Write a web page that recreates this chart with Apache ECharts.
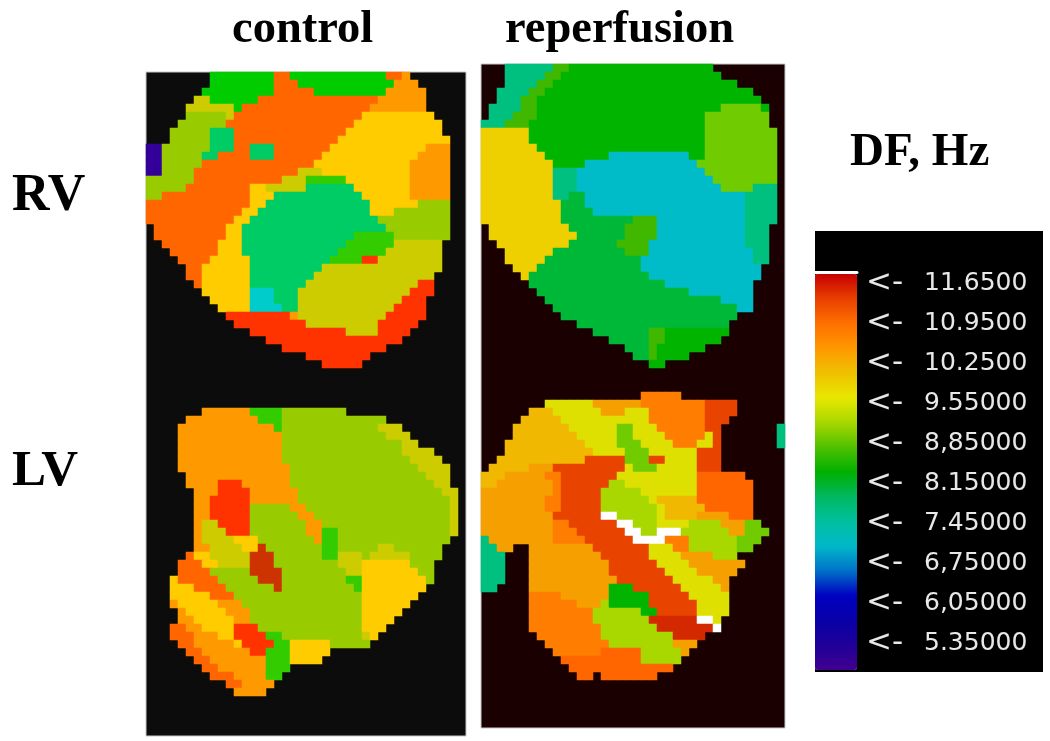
<!DOCTYPE html>
<html>
<head>
<meta charset="utf-8">
<title>DF maps</title>
<script src="https://cdn.jsdelivr.net/npm/echarts@6/dist/echarts.min.js"></script>
<style>
  html, body { margin: 0; padding: 0; background: #fff; }
  #chartsDiv { width: 1050px; height: 741px; }
  /* the source picture is a soft, scaled-up scan */
  #chartsDiv canvas { filter: blur(0.6px); }
</style>
</head>
<body>
<div id="chartsDiv"></div>
<script>
// each row is run-length coded: count + level letter, '.' is no data
var controlRV = [
  '8.8g2O12g2O1L', '8.8g3O12g3L', '7.9g5O9g5L', '6.2K6g15O6L', '5.6K1g16O7L',
  '5.5A1K16O9Y', '4.6A16O11Y', '3.5A3T14O12Y', '3.5A3T13O14Y', '2V6A3T2O3T7O12Y3L',
  '2V5A2T4O3T6O12Y4L', '2V5A14O12Y5L', '2V4A13O3K11Y5L', '6A11O3K5G8Y5L', '5A8O2Y5K6T7Y5L',
  '2A11O3Y11T6Y5L', '13O2Y13T6Y4A', '12O2Y14T3Y7A', '11O2Y16T9A', '1.9O2Y18T8A',
  '1.9O2Y14T5G7A', '2.7O3Y13T6G6K', '3.6O3Y12T6G7K', '4.4O5Y10T4G2R8K', '5.2O6Y9T15K',
  '5.2O6Y8T15K', '6.1O6Y7T14K2R', '7.6Y3C3T14K3R', '8.5Y3C3T13K3R', '9.4Y4C2T12K4R',
  '10.8R1L11K5R', '11.9R9K5R', '13.12R4K4R', '15.17R', '17.13R', '20.8R', '22.5R'
]
var controlLV = [
  '7.6L4G8A', '5.9L3G13A', '4.12L1G12A3K', '4.13L13A3K', '4.13L15A2K',
  '4.13L15A4K', '4.13L16A4K', '4.14L16A4K', '5.13L17A3K', '5.4L3R6L18A2K',
  '6.3L4R6L18A2K', '6.2L5R6L19A1K', '6.2L5R5A2L18A1K', '6.2L5R6A2L17A1K', '6.1L2K4R7A2L16A1K',
  '6.1L3K3R7A2L2G14A1K', '6.1L4K3Y7A1L2G14A', '6.2L4K2Y1D7A2G5A2K6A', '5.1O2Y5K3D6A2G3K1A5K4A', '4.3O2Y4K3D8A3K6Y3A',
  '4.4O5A4D8A2K7Y2A', '3.1Y5O5A3D8A2G8Y1A', '3.3Y4O6A1D9A1G8Y', '3.5Y3O16A7Y', '3.1L5Y3L15A6Y',
  '4.1L5Y3L14A5Y', '4.2L5Y2L14A4Y', '3.2O2L4Y3R13A3Y', '3.3O3L2Y4R2G10A1K1Y', '4.2O5L1Y4R2G5Y5A',
  '5.2O6L2R3G5Y', '6.2O7L3G4Y', '7.2O6L3G', '8.3O4L2G', '10.2O4L', '11.4L'
]
var reperfusionRV = [
  '3.6h2x18e', '3.5h2x20e', '3.4h2x23e', '2.4h2x26e', '2.3h2x28e',
  '1.4h2x23e5i1e', '1.3h3x21e8i', '3h3x22e8i', '6j22e9i', '6j22e9i',
  '7j21e9i', '8j8e10c2e9i', '9j4e14c10i', '9j3h16c9i', '9j3h17c8i',
  '9j3h18c4i3h', '9j2h2f20c4h', '10j3f20c4h', '10j4f19c4h', '10j9f3x11c4h',
  '1.10j7f4x11c3h', '1.11j6f4x11c3h', '2.9j6f4x12c3h', '3.6j9f3x13c2h', '3.5j12f14c2h',
  '4.3j13f15c', '5.1j15f14c', '6.17f11c', '7.19f8c', '8.22f4c',
  '9.23f2c', '10.22f', '12.19f', '14.7f2x8e', '16.5f2x7e',
  '18.3f1x6e', '19.2f1x4e', '21.2e'
]
var reperfusionLV = [
  '20.5p', '8.6m6q8p4s', '6.3u6m3q3m7p4s', '5.5u11m7p3s', '4.7u6m2i3m6p2s7.1h',
  '4.8u5m2i4m5p1m1s7.1h', '3.10u4m3i4m3p2m1s7.1h', '3.11u4m3i6m3s', '2.11u5s3i2s4m3s', '1.5u3q9s1m3i5m3s',
  '3u5q2p7s10m6O', '2u7q1p6s2n9m7O', '9q1p5s5n7m7O', '8q2p5s6n1m5u7O', '8q2p5s7n1m5u6O',
  '9q6s2w5n1m4u4q3O', '9q2p6s2w3n4m4n3q2i', '9q3p6s2w2n3w6n2q3i', '1h8q4p6s4w3p6n3i', '2h2q2.8q7s3m2p6n2i',
  '3h3.9q6s4m4q3n', '3h3.10q6s4m7q', '3h3.10q7s4m5q', '3h3.11q7s5m2q', '2h4.10q3e6s5m1q',
  '6.4p6q5e5s5m', '6.6p3q1n5e6s4m', '6.8p6n2e5s4m', '6.8p7n6t2w1m', '6.9p7n7t1w',
  '7.8p9n4t', '8.8p8n3q', '9.6p5O5n1q', '10.10O5n', '11.13O', '12.2O1.7O'
]
var tickValues = [11.65, 10.95, 10.25, 9.55, 8.85, 8.15, 7.45, 6.75, 6.05, 5.35]
var tickLabels = ['11.6500', '10.9500', '10.2500', '9.55000', '8,85000', '8.15000', '7.45000', '6,75000', '6,05000', '5.35000']
// dominant frequency (Hz) read for each map level
var levelValues = {
  g: 8.2, G: 8.5, O: 10.8, Y: 9.9, L: 10.3, A: 9.0, K: 9.4, T: 7.8, C: 7.1, V: 5.5, R: 11.1, D: 11.4,
  e: 8.15, f: 7.95, c: 6.9, h: 7.5, i: 8.7, j: 9.7, m: 9.55, n: 9.1, p: 10.6, q: 10.2, s: 11.0, t: 11.5, u: 10.0, x: 8.4, w: 12.0
}
var levelColors = {
  g: '#00cc00', G: '#33cc00', O: '#ff6600', Y: '#ffcc00', L: '#ff9900', A: '#99cc00', K: '#cccc00', T: '#00cc66', C: '#00cccc', V: '#330099', R: '#ff3300', D: '#cc3300',
  e: '#00b400', f: '#00b838', c: '#00bcc8', h: '#00c080', i: '#70cc00', j: '#eed000', m: '#dde000', n: '#a8d800', p: '#ff7d00', q: '#f5a000', s: '#e84400', t: '#d42800', u: '#f0b800', x: '#40b800', w: '#ffffff'
}
var scaleColors = [
  '#400090', '#200098', '#0800a8', '#0000c0', '#0070c8', '#00b8c8', '#00c0a0', '#00b860', '#00b000',
  '#50c000', '#a8d800', '#e8e800', '#eec000', '#ff9800', '#ff7000', '#e84000', '#c80000'
]
var scaleMin = 4.8775
var scaleMax = 11.8075
var fontSerif = '"Liberation Serif", serif'

var decodeRows = function(rows, startRow) {
  var cells = []
  rows.forEach(function(row, r) {
    var col = 0
    row.replace(/(\d+)(\D)/g, function(all, count, level) {
      for (var i = 0; i < +count; i++) {
        if (level !== '.') cells.push([col, startRow + r, levelValues[level]])
        col++
      }
    })
  })
  return cells
}

var range = function(n) {
  return Array.from({ length: n }, function(d, i) { return i })
}

var mapAxis = function(index, n, isY) {
  return { type: 'category', gridIndex: index, show: false, inverse: isY, data: range(n) }
}

var headText = function(text, left, top, size) {
  return { text: text, left: left, top: top, padding: 0, textStyle: { fontFamily: fontSerif, fontWeight: 'bold', fontSize: size, color: '#000' } }
}

var mapSeries = function(index, cells) {
  return { type: 'heatmap', xAxisIndex: index, yAxisIndex: index, data: cells, silent: true, progressive: 0, itemStyle: { borderWidth: 0 } }
}

var realChart = echarts.init(document.getElementById('chartsDiv'))
var option = {
  animation: false,
  backgroundColor: '#fff',
  title: [
    headText('control', 232, 6, 46.5),
    headText('reperfusion', 505, 6, 46.5),
    headText('RV', 12, 171, 52),
    headText('LV', 12, 446, 51),
    headText('DF, Hz', 850, 129, 47)
  ],
  graphic: [
    { type: 'rect', left: 815, top: 231, z: -1, shape: { width: 228, height: 441 }, style: { fill: '#000' } }
  ],
  grid: [
    { left: 146, top: 72, width: 320, height: 664, show: true, backgroundColor: '#0c0c0c', borderColor: '#c8c8c8', borderWidth: 1 },
    { left: 481, top: 64, width: 304, height: 664, show: true, backgroundColor: '#1a0000', borderColor: '#c8c8c8', borderWidth: 1 },
    { left: 815, top: 274, width: 42, height: 396, borderWidth: 0 }
  ],
  xAxis: [
    mapAxis(0, 40, false),
    mapAxis(1, 38, false),
    {
      type: 'category', gridIndex: 2, position: 'top', offset: 2, data: [''],
      axisLine: { lineStyle: { color: '#fff', width: 3 } }, axisTick: { show: false }, axisLabel: { show: false }
    }
  ],
  yAxis: [
    mapAxis(0, 83, true),
    mapAxis(1, 83, true),
    {
      type: 'value', gridIndex: 2, position: 'right', min: scaleMin, max: scaleMax,
      axisLine: { show: false }, axisTick: { show: false }, splitLine: { show: false },
      axisLabel: {
        customValues: tickValues, margin: 9, align: 'left',
        formatter: function(value) {
          return '{a|<-}{b|' + tickLabels[tickValues.indexOf(value)] + '}'
        },
        rich: {
          a: { width: 58, fontFamily: 'DejaVu Sans', fontSize: 31, color: '#e8e8e8' },
          b: { fontFamily: 'DejaVu Sans', fontSize: 25, color: '#e8e8e8' }
        }
      }
    }
  ],
  visualMap: [
    {
      type: 'piecewise', show: false, seriesIndex: [0, 1],
      pieces: Object.keys(levelValues).map(function(k) {
        return { value: levelValues[k], color: levelColors[k] }
      })
    },
    {
      type: 'continuous', seriesIndex: 2, left: 815, top: 274, padding: 0, itemWidth: 42, itemHeight: 396,
      min: scaleMin, max: scaleMax, text: null, showLabel: false, calculable: false, hoverLink: false,
      inRange: { color: scaleColors }
    }
  ],
  series: [
    mapSeries(0, decodeRows(controlRV, 0).concat(decodeRows(controlLV, 42))),
    mapSeries(1, decodeRows(reperfusionRV, 0).concat(decodeRows(reperfusionLV, 41))),
    mapSeries(2, [])
  ]
}
realChart.setOption(option)
</script>
</body>
</html>
